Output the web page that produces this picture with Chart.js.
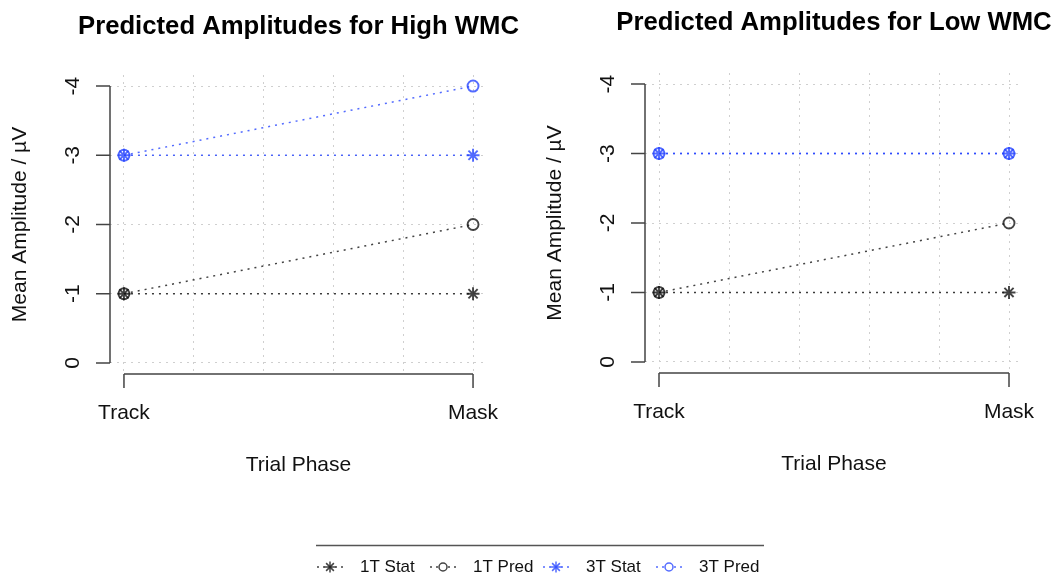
<!DOCTYPE html>
<html><head><meta charset="utf-8">
<script src="https://cdn.jsdelivr.net/npm/chart.js@4.4.0/dist/chart.umd.min.js"></script>
<style>
html,body{margin:0;padding:0;background:#fff;width:1057px;height:585px;overflow:hidden;}
canvas{position:absolute;top:0;}
#cl{left:0;} #cr{left:535px;} #leg{left:0;top:500px;}
</style></head><body>
<canvas id="cl" width="535" height="500"></canvas>
<canvas id="cr" width="522" height="500"></canvas>
<canvas id="leg" width="1057" height="85"></canvas>
<script>
// ---- data ----
const phases = ['Track', 'Mask'];
const seriesNames = ['1T Stat', '1T Pred', '3T Stat', '3T Pred'];
const high1TStat = [-1, -1];
const high1TPred = [-1, -2];
const high3TStat = [-3, -3];
const high3TPred = [-3, -4];
const low1TStat = [-1, -1];
const low1TPred = [-1, -2];
const low3TStat = [-3, -3];
const low3TPred = [-3, -3];
const yTickValues = [0, -1, -2, -3, -4];
const yTickLabels = ['0', '-1', '-2', '-3', '-4'];
const xGridValues = [1, 1.2, 1.4, 1.6, 1.8, 2];
const titles = ['Predicted Amplitudes for High WMC', 'Predicted Amplitudes for Low WMC'];
const xTitle = 'Trial Phase';
const yTitle = 'Mean Amplitude / \u00b5V';

// ---- styles ----
const FONT = '"Liberation Sans", Arial, Helvetica, sans-serif';
const BLACK = 'rgba(20,20,20,0.8)';
const BLUE = 'rgba(40,70,255,0.8)';
const seriesColors = [BLACK, BLACK, BLUE, BLUE];
const seriesMarkers = ['star', 'circle', 'star', 'circle'];
const seriesRadius = [6.5, 5.5, 6.5, 5.5];

function axesPlugin(title, titleY) {
  return {
    id: 'rAxes',
    afterDraw(chart) {
      const ctx = chart.ctx, a = chart.chartArea, x = chart.scales.x, y = chart.scales.y;
      ctx.save();
      ctx.strokeStyle = '#444'; ctx.lineWidth = 1.5;
      ctx.beginPath();
      const yTop = y.getPixelForValue(Math.min(...yTickValues));
      const yBot = y.getPixelForValue(Math.max(...yTickValues));
      ctx.moveTo(a.left, yTop); ctx.lineTo(a.left, yBot);
      yTickValues.forEach(v => { const p = y.getPixelForValue(v); ctx.moveTo(a.left, p); ctx.lineTo(a.left - 14, p); });
      const xa = x.getPixelForValue(1), xb = x.getPixelForValue(phases.length);
      ctx.moveTo(xa, a.bottom); ctx.lineTo(xb, a.bottom);
      phases.forEach((p, i) => { const px = x.getPixelForValue(i + 1); ctx.moveTo(px, a.bottom); ctx.lineTo(px, a.bottom + 14); });
      ctx.stroke();
      ctx.fillStyle = '#111';
      ctx.font = '21px ' + FONT; ctx.textAlign = 'center'; ctx.textBaseline = 'middle';
      phases.forEach((p, i) => ctx.fillText(p, x.getPixelForValue(i + 1), a.bottom + 39));
      ctx.fillText(xTitle, (a.left + a.right) / 2, a.bottom + 91);
      yTickValues.forEach((v, i) => {
        const p = y.getPixelForValue(v);
        ctx.save(); ctx.translate(a.left - 37, p); ctx.rotate(-Math.PI / 2); ctx.fillText(yTickLabels[i], 0, 0); ctx.restore();
      });
      ctx.save(); ctx.translate(a.left - 90, (a.top + a.bottom) / 2); ctx.rotate(-Math.PI / 2); ctx.fillText(yTitle, 0, 0); ctx.restore();
      ctx.fillStyle = '#000';
      ctx.font = 'bold 25.7px ' + FONT;
      ctx.fillText(title, (a.left + a.right) / 2, titleY);
      ctx.restore();
    }
  };
}

function makeChart(id, seriesData, title, titleY, pad) {
  return new Chart(document.getElementById(id), {
    type: 'line',
    data: {
      datasets: seriesNames.map((n, i) => ({
        label: n,
        data: seriesData[i].map((v, j) => ({ x: j + 1, y: v })),
        borderColor: seriesColors[i],
        borderWidth: 1.5,
        borderDash: [2, 5],
        pointStyle: seriesMarkers[i],
        pointRadius: seriesRadius[i],
        pointBorderColor: seriesColors[i],
        pointBackgroundColor: 'rgba(0,0,0,0)',
        pointBorderWidth: 1.9,
        tension: 0,
        fill: false,
        clip: false
      }))
    },
    options: {
      responsive: false, animation: false,
      layout: { padding: pad },
      plugins: { legend: { display: false }, tooltip: { enabled: false }, title: { display: false } },
      scales: {
        x: {
          type: 'linear', min: 0.96, max: 2.04,
          afterBuildTicks: s => { s.ticks = xGridValues.map(v => ({ value: v })); },
          afterFit: s => { s.height = 0; },
          ticks: { display: false },
          grid: { color: '#cfcfcf', lineWidth: 1, drawTicks: false },
          border: { display: false, dash: [2, 5] }
        },
        y: {
          type: 'linear', reverse: true, min: -4.16, max: 0.16,
          afterBuildTicks: s => { s.ticks = yTickValues.map(v => ({ value: v })); },
          afterFit: s => { s.width = 0; },
          ticks: { display: false },
          grid: { color: '#cfcfcf', lineWidth: 1, drawTicks: false },
          border: { display: false, dash: [2, 5] }
        }
      }
    },
    plugins: [axesPlugin(title, titleY)]
  });
}

makeChart('cl', [high1TStat, high1TPred, high3TStat, high3TPred], titles[0], 27,
  { left: 110, right: 48, top: 75, bottom: 126 });
makeChart('cr', [low1TStat, low1TPred, low3TStat, low3TPred], titles[1], 23,
  { left: 110, right: 34, top: 73, bottom: 127 });

// ---- legend ----
(function () {
  const c = document.getElementById('leg').getContext('2d');
  c.strokeStyle = '#555'; c.lineWidth = 1.5;
  c.beginPath(); c.moveTo(316, 45.5); c.lineTo(764, 45.5); c.stroke();
  const yc = 67;
  c.font = '17px ' + FONT; c.textBaseline = 'middle'; c.textAlign = 'left'; c.fillStyle = '#111';
  seriesNames.forEach((n, i) => {
    const x0 = 317 + i * 113;
    c.save();
    c.strokeStyle = seriesColors[i]; c.lineWidth = 1.5; c.setLineDash([2, 4]);
    c.beginPath(); c.moveTo(x0, yc); c.lineTo(x0 + 27, yc); c.stroke();
    c.restore();
    c.save();
    c.strokeStyle = seriesColors[i]; c.lineWidth = 1.5;
    const mx = x0 + 13;
    c.beginPath();
    if (seriesMarkers[i] === 'star') {
      const r = 5.5;
      c.moveTo(mx - r, yc); c.lineTo(mx + r, yc);
      c.moveTo(mx, yc - r); c.lineTo(mx, yc + r);
      const d = r * 0.7071;
      c.moveTo(mx - d, yc - d); c.lineTo(mx + d, yc + d);
      c.moveTo(mx - d, yc + d); c.lineTo(mx + d, yc - d);
    } else {
      c.fillStyle = '#fff'; c.arc(mx, yc, 4, 0, Math.PI * 2); c.fill();
    }
    c.stroke();
    c.restore();
    c.fillText(n, x0 + 43, yc);
  });
})();
</script>
</body></html>
